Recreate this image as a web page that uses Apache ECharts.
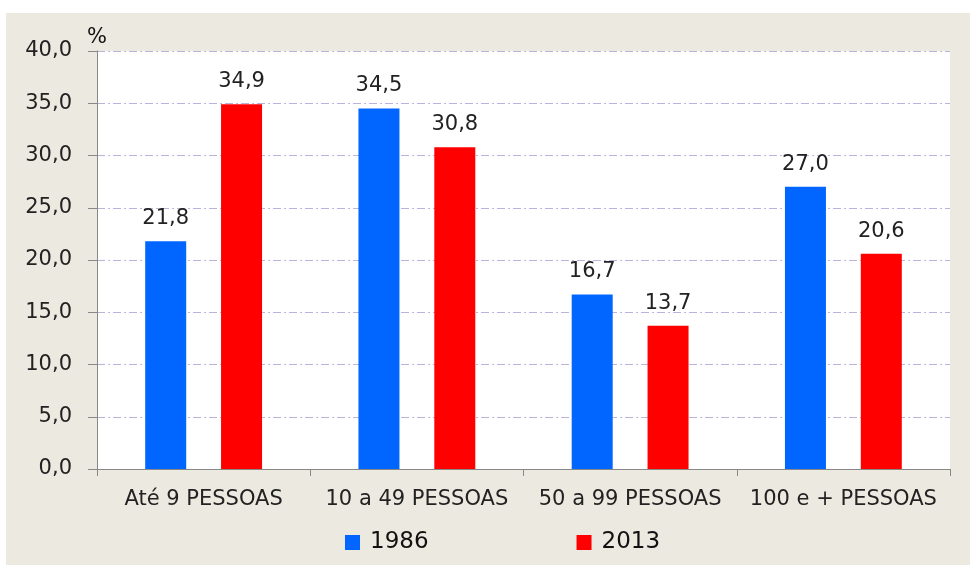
<!DOCTYPE html>
<html>
<head>
<meta charset="utf-8">
<script src="https://cdn.jsdelivr.net/npm/echarts@6/dist/echarts.min.js"></script>
<style>
html,body{margin:0;padding:0;background:#fff;}
#c{width:970px;height:565px;}
</style>
</head>
<body>
<div id="c"></div>
<script>
const categories = ['Até 9 PESSOAS', '10 a 49 PESSOAS', '50 a 99 PESSOAS', '100 e + PESSOAS'];
const series1986 = [21.8, 34.5, 16.7, 27.0];
const series2013 = [34.9, 30.8, 13.7, 20.6];
const seriesNames = ['1986', '2013'];

const chart = echarts.init(document.getElementById('c'), null, {renderer: 'canvas'});
const font = 'DejaVu Sans';
const fmt = v => v.toFixed(1).replace('.', ',');
const labelOpt = {
  show: true, position: 'top', distance: 12,
  fontFamily: font, fontSize: 21, color: '#222',
  formatter: p => fmt(p.value)
};
chart.setOption({
  backgroundColor: '#fff',
  animation: false,
  graphic: [{
    type: 'rect', z: -10, silent: true,
    shape: {x: 6, y: 13, width: 964, height: 552},
    style: {fill: '#ECE9E0'}
  }],
  grid: {
    left: 97, right: 20, top: 51, bottom: 96,
    show: true, backgroundColor: '#fff', borderWidth: 0, containLabel: false
  },
  legend: {
    left: 340, top: 526,
    itemWidth: 15, itemHeight: 15, itemGap: 148,
    icon: 'rect',
    textStyle: {fontFamily: font, fontSize: 23, color: '#111', padding: [0, 0, 0, 5]},
    data: seriesNames
  },
  xAxis: {
    type: 'category',
    data: categories,
    axisLine: {lineStyle: {color: '#888', width: 1}},
    axisTick: {show: true, length: 7, lineStyle: {color: '#888'}},
    axisLabel: {fontFamily: font, fontSize: 21, color: '#222', margin: 20, interval: 0}
  },
  yAxis: {
    type: 'value', min: 0, max: 40, interval: 5,
    name: '%', nameLocation: 'end', nameGap: 3,
    nameTextStyle: {fontFamily: font, fontSize: 21, color: '#111', align: 'center', padding: [0, 0, 0, 0]},
    axisLine: {show: true, lineStyle: {color: '#888', width: 1}},
    axisTick: {show: true, length: 9, lineStyle: {color: '#888'}},
    axisLabel: {fontFamily: font, fontSize: 21, color: '#222', margin: 25, formatter: v => fmt(v)},
    splitLine: {show: true, lineStyle: {color: '#BDB2DA', width: 1, type: [8, 3, 2, 3]}}
  },
  series: [
    {name: seriesNames[0], type: 'bar', data: series1986, barWidth: 41, barGap: '85%',
     itemStyle: {color: '#0066FF'}, label: labelOpt},
    {name: seriesNames[1], type: 'bar', data: series2013, barWidth: 41, barGap: '85%',
     itemStyle: {color: '#FF0000'}, label: labelOpt}
  ]
});
</script>
</body>
</html>
